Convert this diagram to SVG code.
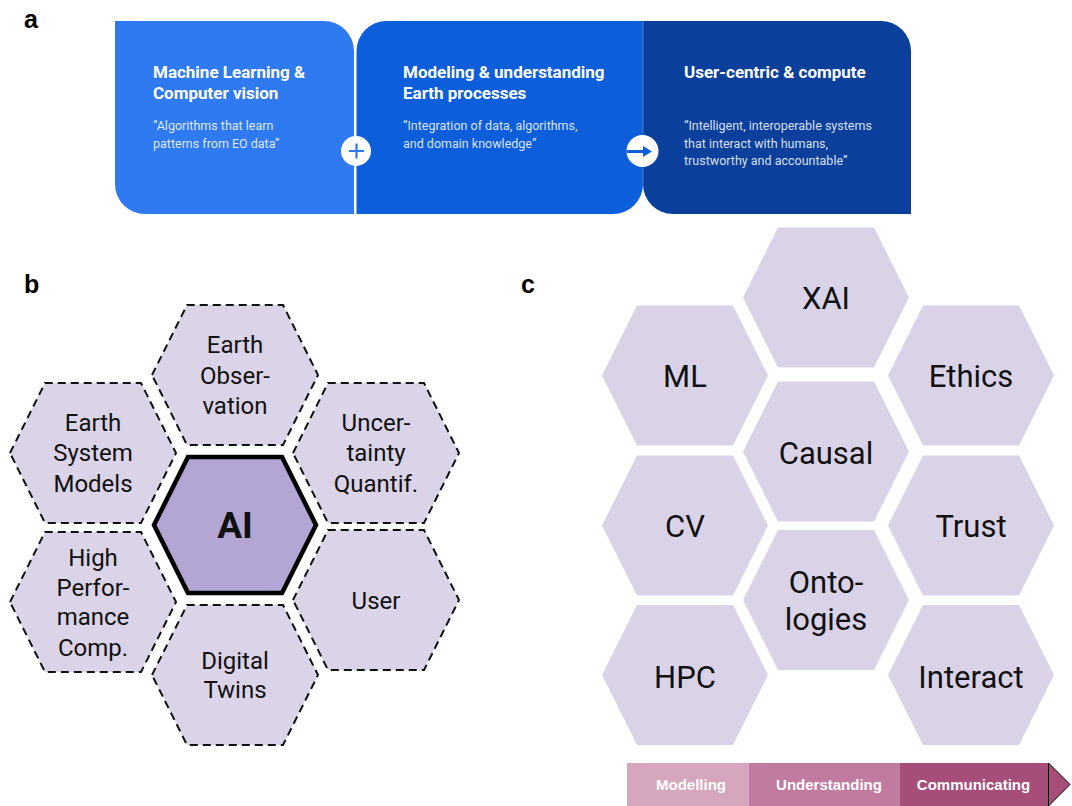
<svg xmlns="http://www.w3.org/2000/svg" width="1072" height="806" viewBox="0 0 1072 806">
  <style>
    .lbl { font-family: "Liberation Sans", Arial, sans-serif; font-weight: bold; font-size: 25px; fill: #000; }
    .atitle { font-family: Roboto, "Liberation Sans", sans-serif; font-weight: bold; font-size: 17px; fill: #fff; }
    .aquote { font-family: Roboto, "Liberation Sans", sans-serif; font-size: 12.5px; fill: #fff; fill-opacity: 0.85; }
    .hexb { fill: #DBD3E8; stroke: #111; stroke-width: 2; stroke-dasharray: 8 5; }
    .hexai { fill: #B3A6D4; stroke: #000; stroke-width: 4.5; stroke-linejoin: miter; }
    .hexc { fill: #DAD3E8; }
    .tb { font-family: Roboto, "Liberation Sans", sans-serif; font-size: 24px; fill: #111; text-anchor: middle; }
    .tai { font-family: Roboto, "Liberation Sans", sans-serif; font-size: 37px; font-weight: bold; fill: #111; text-anchor: middle; }
    .tc { font-family: Roboto, "Liberation Sans", sans-serif; font-size: 31px; fill: #111; text-anchor: middle; }
    .bar { font-family: "Liberation Sans", Arial, sans-serif; font-weight: bold; font-size: 15px; fill: #fff; text-anchor: middle; }
  </style>

  <!-- panel labels -->
  <text class="lbl" x="24" y="28">a</text>
  <text class="lbl" x="24" y="293">b</text>
  <text class="lbl" x="521" y="293">c</text>

  <!-- Panel a -->
  <g id="a-block1">
    <path d="M115,21 H324 A30,30 0 0 1 354,51 V214 H145 A30,30 0 0 1 115,184 Z" fill="#2F7AF0"/>
    <text class="atitle" x="153" y="78">Machine Learning &amp;</text>
    <text class="atitle" x="153" y="99">Computer vision</text>
    <text class="aquote" x="153" y="130">“Algorithms that learn</text>
    <text class="aquote" x="153" y="148">patterns from EO data”</text>
  </g>
  <g id="a-block2">
    <path d="M386.5,21 H643 V184 A30,30 0 0 1 613,214 H356.5 V51 A30,30 0 0 1 386.5,21 Z" fill="#0D5EDB"/>
    <text class="atitle" x="403" y="78">Modeling &amp; understanding</text>
    <text class="atitle" x="403" y="99">Earth processes</text>
    <text class="aquote" x="403" y="130">“Integration of data, algorithms,</text>
    <text class="aquote" x="403" y="148">and domain knowledge”</text>
  </g>
  <g id="a-block3">
    <path d="M643,21 H881 A30,30 0 0 1 911,51 V214 H673 A30,30 0 0 1 643,184 Z" fill="#0A3F9C"/>
    <line x1="643" y1="21" x2="643" y2="184" stroke="#fff" stroke-opacity="0.25" stroke-width="1"/>
    <text class="atitle" x="684" y="78">User-centric &amp; compute</text>
    <text class="aquote" x="684" y="130">“Intelligent, interoperable systems</text>
    <text class="aquote" x="684" y="147.5">that interact with humans,</text>
    <text class="aquote" x="684" y="165">trustworthy and accountable”</text>
  </g>
  <g id="a-connectors">
    <circle cx="356" cy="151" r="15" fill="#fff"/>
    <path d="M349,151 H364 M356.5,143.5 V158.5" stroke="#2F7AF0" stroke-width="2.2" fill="none"/>
    <circle cx="642.5" cy="151" r="16" fill="#fff"/>
    <line x1="626.5" y1="151.5" x2="645" y2="151.5" stroke="#0D5EDB" stroke-width="3"/>
    <polygon points="643,146 652,151.5 643,157" fill="#0D5EDB"/>
  </g>

  <!-- Panel b -->
  <g id="b-earth-observation">
    <polygon class="hexb" points="152,375 187,305 283,305 318,375 283,445 187,445"/>
    <text class="tb" x="235" y="353">Earth</text>
    <text class="tb" x="235" y="384">Obser-</text>
    <text class="tb" x="235" y="414">vation</text>
  </g>
  <g id="b-earth-system-models">
    <polygon class="hexb" points="10,453 45,383 141,383 176,453 141,523 45,523"/>
    <text class="tb" x="93" y="431">Earth</text>
    <text class="tb" x="93" y="461">System</text>
    <text class="tb" x="93" y="492">Models</text>
  </g>
  <g id="b-uncertainty">
    <polygon class="hexb" points="293,453 328,383 424,383 459,453 424,523 328,523"/>
    <text class="tb" x="376" y="431">Uncer-</text>
    <text class="tb" x="376" y="461">tainty</text>
    <text class="tb" x="376" y="492">Quantif.</text>
  </g>
  <g id="b-hpc">
    <polygon class="hexb" points="10,602 45,532 141,532 176,602 141,672 45,672"/>
    <text class="tb" x="93" y="566">High</text>
    <text class="tb" x="93" y="596">Perfor-</text>
    <text class="tb" x="93" y="625">mance</text>
    <text class="tb" x="93" y="656">Comp.</text>
  </g>
  <g id="b-user">
    <polygon class="hexb" points="293,600 328,530 424,530 459,600 424,670 328,670"/>
    <text class="tb" x="376" y="609">User</text>
  </g>
  <g id="b-digital-twins">
    <polygon class="hexb" points="152,675 187,605 283,605 318,675 283,745 187,745"/>
    <text class="tb" x="235" y="669">Digital</text>
    <text class="tb" x="235" y="698">Twins</text>
  </g>
  <g id="b-ai">
    <polygon class="hexai" points="154,525 188,457 282,457 316,525 282,593 188,593"/>
    <text class="tai" x="235" y="538">AI</text>
  </g>

  <!-- Panel c -->
  <g id="c-xai">
    <polygon class="hexc" points="743,297.5 778,227.5 874,227.5 909,297.5 874,367.5 778,367.5"/>
    <text class="tc" x="826" y="309">XAI</text>
  </g>
  <g id="c-ml">
    <polygon class="hexc" points="602,375.5 637,305.5 733,305.5 768,375.5 733,445.5 637,445.5"/>
    <text class="tc" x="685" y="387">ML</text>
  </g>
  <g id="c-ethics">
    <polygon class="hexc" points="888,375.5 923,305.5 1019,305.5 1054,375.5 1019,445.5 923,445.5"/>
    <text class="tc" x="971" y="387">Ethics</text>
  </g>
  <g id="c-causal">
    <polygon class="hexc" points="743,451.5 778,381.5 874,381.5 909,451.5 874,521.5 778,521.5"/>
    <text class="tc" x="826" y="464">Causal</text>
  </g>
  <g id="c-cv">
    <polygon class="hexc" points="602,525.5 637,455.5 733,455.5 768,525.5 733,595.5 637,595.5"/>
    <text class="tc" x="685" y="536.5">CV</text>
  </g>
  <g id="c-trust">
    <polygon class="hexc" points="888,525.5 923,455.5 1019,455.5 1054,525.5 1019,595.5 923,595.5"/>
    <text class="tc" x="971" y="536.5">Trust</text>
  </g>
  <g id="c-ontologies">
    <polygon class="hexc" points="743,600 778,530 874,530 909,600 874,670 778,670"/>
    <text class="tc" x="826" y="592.5">Onto-</text>
    <text class="tc" x="826" y="629.5">logies</text>
  </g>
  <g id="c-hpc">
    <polygon class="hexc" points="602,675 637,605 733,605 768,675 733,745 637,745"/>
    <text class="tc" x="685" y="687.5">HPC</text>
  </g>
  <g id="c-interact">
    <polygon class="hexc" points="888,675 923,605 1019,605 1054,675 1019,745 923,745"/>
    <text class="tc" x="971" y="687.5">Interact</text>
  </g>

  <!-- bottom bar -->
  <g id="bar-modelling">
    <rect x="627" y="763" width="121.5" height="43" fill="#D5A6BD"/>
    <text class="bar" x="691" y="790">Modelling</text>
  </g>
  <g id="bar-understanding">
    <rect x="748.5" y="763" width="151.5" height="43" fill="#C27BA0"/>
    <text class="bar" x="829" y="790">Understanding</text>
  </g>
  <g id="bar-communicating">
    <rect x="900" y="763" width="148.5" height="43" fill="#A64D79"/>
    <text class="bar" x="973.5" y="790">Communicating</text>
  </g>
  <g id="bar-arrow">
    <polygon points="1048.5,763 1070,784.5 1048.5,806" fill="#A64D79" stroke="#000" stroke-width="1"/>
  </g>
</svg>
